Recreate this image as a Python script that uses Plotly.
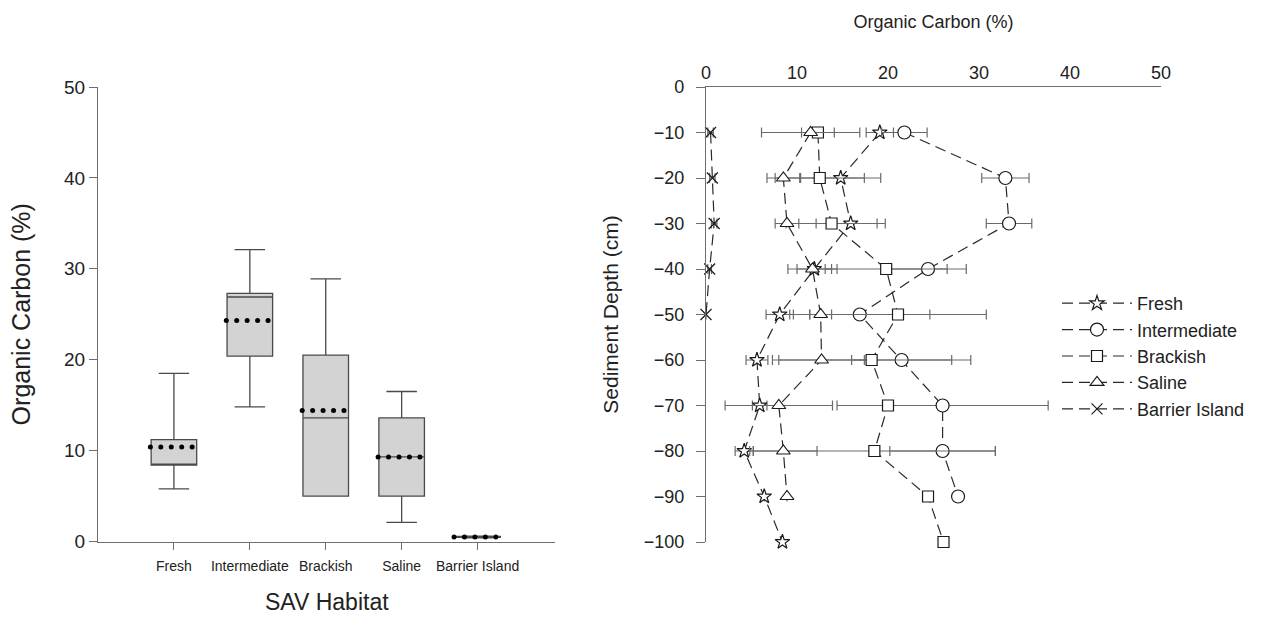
import numpy as np
import plotly.graph_objects as go

# ---------------- Left panel: box plot data ----------------
habitats = ["Fresh", "Intermediate", "Brackish", "Saline", "Barrier Island"]
box_lower = [5.8, 14.8, 5.0, 2.1, 0.4]
box_q1 = [8.4, 20.4, 5.0, 5.0, 0.45]
box_median = [8.5, 26.9, 13.6, 9.3, 0.5]
box_q3 = [11.2, 27.3, 20.5, 13.6, 0.55]
box_upper = [18.5, 32.1, 28.9, 16.5, 0.6]
box_mean = [10.4, 24.3, 14.4, 9.3, 0.5]

# ---------------- Right panel: depth profiles ----------------
depths = [-10, -20, -30, -40, -50, -60, -70, -80, -90, -100]
fresh = [19.1, 14.8, 15.9, 11.9, 8.1, 5.6, 5.9, 4.2, 6.4, 8.4]
fresh_err = [1.5, 4.4, 3.8, 1.9, 1.5, 1.2, 0.8, 1.0, 0, 0]
intermediate = [21.8, 32.9, 33.3, 24.4, 16.9, 21.5, 26.0, 26.0, 27.7]
intermediate_err = [2.5, 2.6, 2.5, 4.2, 7.7, 5.5, 11.6, 5.8, 0]
brackish = [12.3, 12.5, 13.8, 19.8, 21.1, 18.2, 20.0, 18.5, 24.4, 26.1]
brackish_err = [1.8, 4.9, 5.0, 6.7, 9.7, 10.9, 0, 13.3, 0, 0]
saline = [11.5, 8.5, 8.9, 11.7, 12.6, 12.7, 8.0, 8.5, 8.9]
saline_err = [5.4, 1.8, 1.3, 2.7, 1.2, 4.7, 5.9, 3.7, 0]
barrier = [0.5, 0.7, 0.9, 0.4, 0.0]
barrier_err = [0.3, 0.3, 0.3, 0.2, 0]

FONT = "Liberation Sans, Arial, sans-serif"
AXC = "#6e6e6e"
TXT = "#222222"

fig = go.Figure()

# Boxes
for i, h in enumerate(habitats):
    fig.add_trace(go.Box(
        x=[i], q1=[box_q1[i]], median=[box_median[i]], q3=[box_q3[i]],
        lowerfence=[box_lower[i]], upperfence=[box_upper[i]],
        width=0.6, whiskerwidth=0.67, fillcolor="#d3d3d3",
        line=dict(color="#4a4a4a", width=1.3), boxpoints=False,
        showlegend=False, xaxis="x", yaxis="y", hoverinfo="skip",
    ))

# Mean dotted lines (5 dots across each box)
offs = np.linspace(-0.31, 0.24, 5)
mx, my = [], []
for i, m in enumerate(box_mean):
    mx += list(i + offs)
    my += [m] * len(offs)
fig.add_trace(go.Scatter(
    x=mx, y=my, mode="markers", marker=dict(size=5, color="black"),
    showlegend=False, xaxis="x", yaxis="y", hoverinfo="skip",
))

# Profiles
series = [
    ("Fresh", fresh, fresh_err, "star", 11),
    ("Intermediate", intermediate, intermediate_err, "circle", 13),
    ("Brackish", brackish, brackish_err, "square", 11),
    ("Saline", saline, saline_err, "triangle-up", 12),
    ("Barrier Island", barrier, barrier_err, "x-thin", 11),
]
for name, vals, errs, sym, sz in series:
    fig.add_trace(go.Scatter(
        x=vals, y=depths[:len(vals)], name=name, legendgroup=name,
        mode="lines+markers",
        line=dict(color="#2a2a2a", width=1.2, dash="11px,6px"),
        marker=dict(symbol=sym, size=sz, color="white",
                    line=dict(color="#1a1a1a", width=1.2)),
        error_x=dict(type="data", array=errs, color="#6a6a6a",
                     thickness=1.2, width=5),
        cliponaxis=False, xaxis="x2", yaxis="y2",
    ))

# full-window figure (page body margin removed below)
W, H = 1261, 617

def px_x(p):
    return p / W

def px_y(p):
    return (H - p) / H

fig.update_layout(
    width=W, height=H, autosize=False,
    margin=dict(l=0, r=0, t=0, b=0, pad=0, autoexpand=False),
    paper_bgcolor="white", plot_bgcolor="white",
    font=dict(family=FONT, color=TXT),
    xaxis=dict(
        domain=[px_x(98), px_x(555)], range=[-1, 5.02],
        tickvals=list(range(len(habitats))), ticktext=habitats,
        tickfont=dict(size=14), ticks="outside", ticklen=7, tickcolor=AXC,
        ticklabelstandoff=5,
        showline=True, linecolor=AXC, linewidth=1.3,
        showgrid=False, zeroline=False, anchor="y",
    ),
    yaxis=dict(
        domain=[px_y(541.5), px_y(87)], range=[0, 50],
        tickvals=[0, 10, 20, 30, 40, 50], tickfont=dict(size=19),
        ticks="outside", ticklen=8, tickcolor=AXC,
        showline=True, linecolor=AXC, linewidth=1.3,
        showgrid=False, zeroline=False, anchor="x",
        title=dict(text="Organic Carbon (%)", font=dict(size=25), standoff=26),
    ),
    xaxis2=dict(
        domain=[px_x(706), px_x(1161)], range=[0, 50], side="top",
        tickvals=[0, 10, 20, 30, 40, 50], tickfont=dict(size=18),
        ticks="", showline=True, linecolor=AXC, linewidth=1.3,
        showgrid=False, zeroline=False, anchor="y2",
        title=dict(text="Organic Carbon (%)", font=dict(size=18), standoff=29),
    ),
    yaxis2=dict(
        domain=[px_y(542), px_y(87)], range=[-100, 0],
        tickvals=[0, -10, -20, -30, -40, -50, -60, -70, -80, -90, -100],
        tickfont=dict(size=18), ticks="outside", ticklen=9, tickcolor=AXC,
        ticklabelstandoff=8,
        showline=True, linecolor=AXC, linewidth=1.3,
        showgrid=False, zeroline=False, anchor="x2",
        title=dict(text="Sediment Depth (cm)", font=dict(size=21), standoff=19),
    ),
    legend=dict(
        x=px_x(1057), y=px_y(285), xanchor="left", yanchor="top",
        font=dict(size=18), bgcolor="rgba(0,0,0,0)", tracegroupgap=0,
        itemwidth=70,
    ),
    annotations=[dict(
        text="SAV Habitat", xref="paper", yref="paper",
        x=px_x(327), y=px_y(602), xanchor="center", yanchor="middle",
        showarrow=False, font=dict(size=23, family=FONT, color=TXT),
    )],
)

fig.write_html(
    "out.html",
    config={"displayModeBar": False},
    post_script="document.body.style.margin='0';document.body.style.overflow='hidden';",
)
